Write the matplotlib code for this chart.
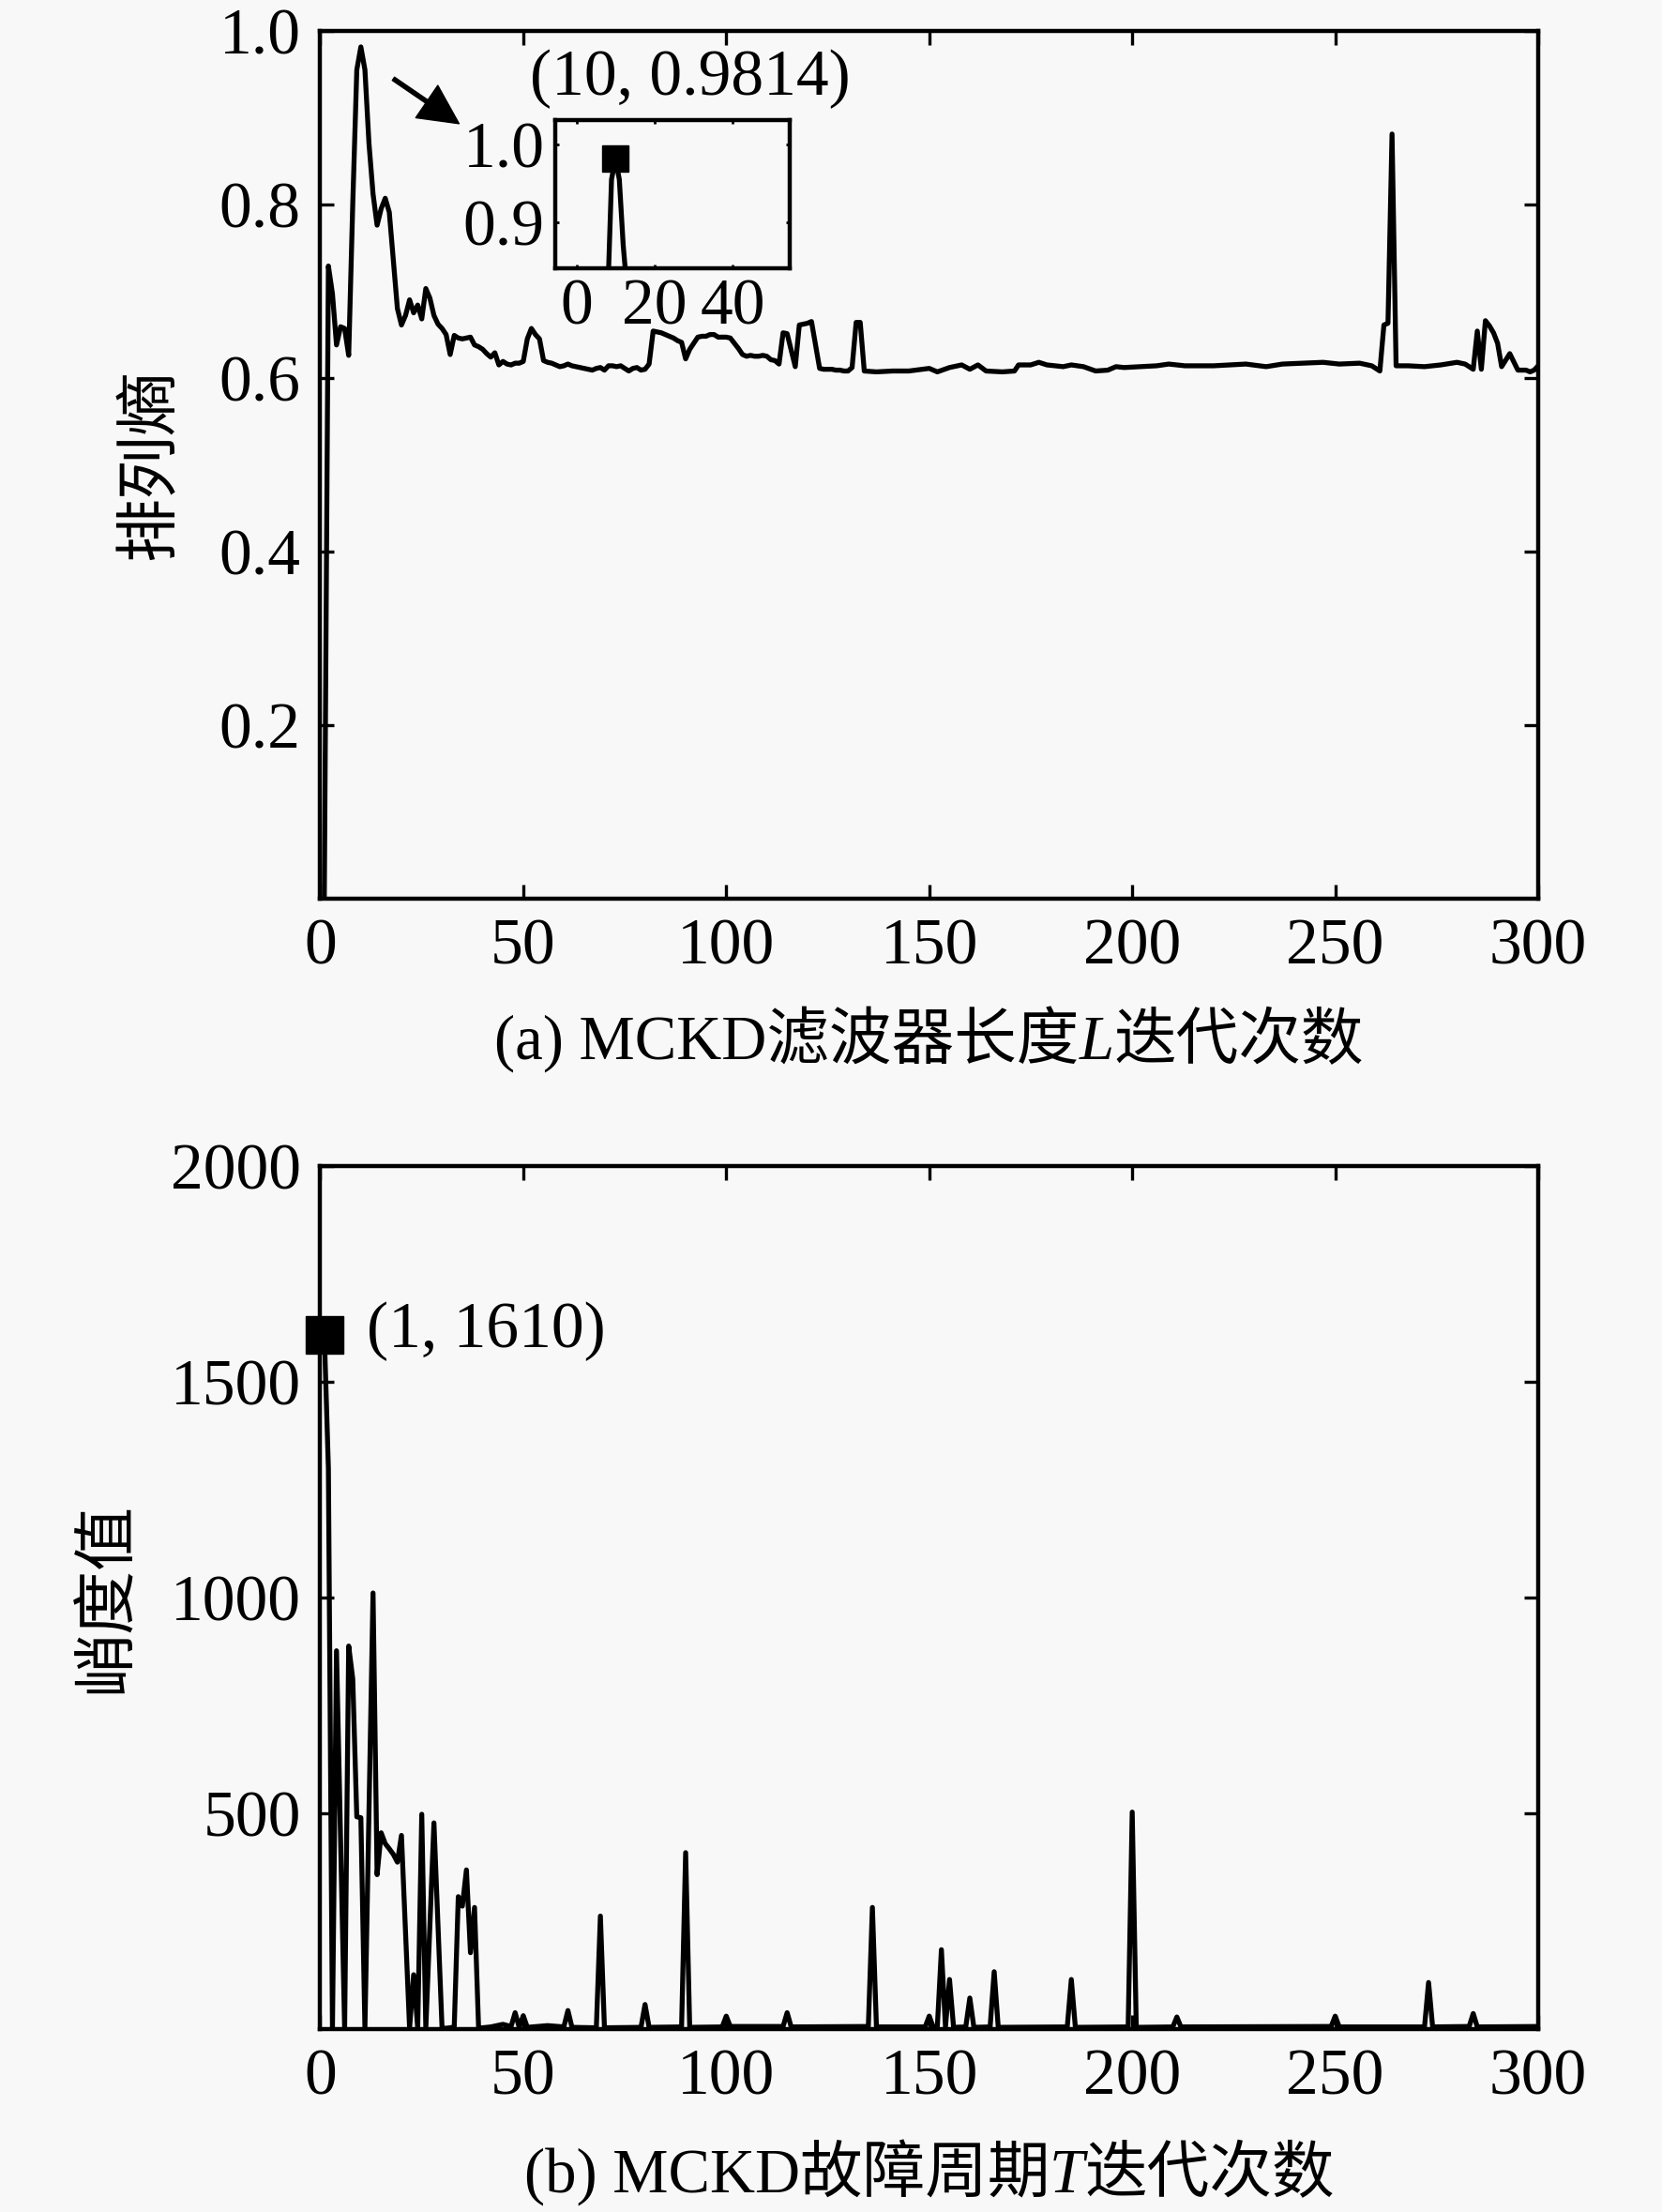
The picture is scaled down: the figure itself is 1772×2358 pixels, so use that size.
import matplotlib
matplotlib.use('Agg')
import matplotlib.pyplot as plt
from matplotlib.offsetbox import TextArea, HPacker, AnnotationBbox

plt.rcParams['font.family'] = ['Liberation Serif', 'Noto Sans CJK SC']

# (a) 排列熵 - MCKD滤波器长度L迭代
x_a = list(range(1, 135)) + [137, 141, 145, 150, 152, 155, 158, 160, 162, 164,
                             168, 171, 172, 175, 177, 179, 183, 185, 188, 191,
                             194, 196, 198, 202, 206, 209, 213, 220, 228, 233,
                             237, 242, 247, 251, 256, 259, 261, 262, 263, 264,
                             265, 268, 272, 276, 280, 282, 284, 285, 286, 287,
                             288, 289, 290, 291, 293, 295, 297, 298, 299, 300]
y_a = [0.003, 0.729, 0.697, 0.638, 0.659, 0.657, 0.626, 0.800, 0.955, 0.9814,
       0.955, 0.870, 0.812, 0.776, 0.795, 0.807, 0.791, 0.735, 0.680, 0.661,
       0.672, 0.690, 0.675, 0.684, 0.668, 0.703, 0.692, 0.672, 0.662, 0.657,
       0.650, 0.627, 0.649, 0.646, 0.645, 0.646, 0.647, 0.638, 0.636, 0.633,
       0.628, 0.624, 0.629, 0.615, 0.619, 0.616, 0.615, 0.617, 0.617, 0.619,
       0.645, 0.657, 0.650, 0.645, 0.620, 0.618, 0.617, 0.615, 0.613, 0.614,
       0.616, 0.614, 0.613, 0.612, 0.611, 0.610, 0.609, 0.611, 0.612, 0.609,
       0.614, 0.614, 0.613, 0.614, 0.611, 0.608, 0.611, 0.612, 0.609, 0.610,
       0.616, 0.654, 0.653, 0.652, 0.650, 0.648, 0.646, 0.643, 0.641, 0.622,
       0.633, 0.640, 0.647, 0.648, 0.648, 0.650, 0.650, 0.647, 0.647, 0.647,
       0.646, 0.640, 0.634, 0.627, 0.625, 0.626, 0.625, 0.625, 0.626, 0.625,
       0.621, 0.620, 0.616, 0.652, 0.651, 0.632, 0.613, 0.661, 0.662, 0.663,
       0.665, 0.638, 0.611, 0.610, 0.610, 0.610, 0.609, 0.609, 0.608, 0.608,
       0.612, 0.664, 0.664, 0.608,
       0.607, 0.608, 0.608, 0.611, 0.607, 0.612, 0.615, 0.610, 0.615, 0.608,
       0.607, 0.608, 0.615, 0.615, 0.618, 0.615, 0.613, 0.615, 0.613, 0.608,
       0.609, 0.613, 0.612, 0.613, 0.614, 0.616, 0.614, 0.614, 0.616, 0.613,
       0.616, 0.617, 0.618, 0.616, 0.617, 0.614, 0.608, 0.661, 0.663, 0.881,
       0.614, 0.614, 0.613, 0.615, 0.618, 0.616, 0.610, 0.654, 0.610, 0.666,
       0.660, 0.652, 0.640, 0.613, 0.628, 0.609, 0.609, 0.607, 0.609, 0.614]

# (b) 峭度值 - MCKD故障周期T迭代
x_b = list(range(1, 40)) + [42, 45, 47, 48, 49, 50, 51, 56, 60, 61,
                            62, 68, 69, 70, 79, 80, 81, 89, 90, 91,
                            99, 100, 101, 114, 115, 116, 135, 136, 137, 149,
                            150, 151, 152, 153, 154, 155, 156, 159, 160, 161,
                            165, 166, 167, 184, 185, 186, 199, 200, 201, 210,
                            211, 212, 249, 250, 251, 272, 273, 274, 283, 284,
                            285, 300]
y_b = [1610, 1300, 2, 877, 440, 2, 888, 812, 492, 490,
       2, 505, 1011, 358, 455, 430, 418, 405, 387, 449,
       225, 2, 126, 2, 498, 2, 240, 478, 240, 2,
       2, 3, 5, 307, 285, 369, 177, 282, 2,
       5, 11, 6, 38, 4, 31, 4, 8, 5, 43,
       4, 3, 262, 3, 4, 57, 4, 5, 409, 4,
       5, 30, 6, 6, 38, 5, 6, 282, 5, 5,
       30, 4, 6, 184, 5, 115, 4, 5, 72, 4,
       5, 133, 4, 5, 115, 4, 5, 503, 4, 5,
       28, 5, 6, 30, 5, 5, 108, 5, 6, 36,
       5, 6]

peak_a = (10, 0.9814)
peak_b = (1, 1610)

x_ticks = [0, 50, 100, 150, 200, 250, 300]
y_ticks_a = [0.2, 0.4, 0.6, 0.8, 1.0]
y_ticks_b = [500, 1000, 1500, 2000]

bg = '#f8f8f8'
fs = 50
fs_lab = 48
fam = ['Liberation Serif', 'Noto Sans CJK SC']
lw = 3.8

fig = plt.figure(figsize=(17.72, 23.58), dpi=100, facecolor=bg)
ax1 = fig.add_axes([0.1927, 0.5937, 0.7328, 0.3924], facecolor=bg)
ax2 = fig.add_axes([0.1927, 0.0827, 0.7328, 0.3900], facecolor=bg)


def style(ax):
    ax.tick_params(direction='in', top=True, right=True, length=11, width=2.4,
                   labelsize=fs, pad=15)
    for s in ax.spines.values():
        s.set_linewidth(3.2)


# panel a
ax1.plot(x_a, y_a, color='k', lw=lw)
ax1.set_xlim(0, 300)
ax1.set_ylim(0, 1)
ax1.set_xticks(x_ticks)
ax1.set_yticks(y_ticks_a, ['%.1f' % v for v in y_ticks_a])
style(ax1)
ax1.set_ylabel('排列熵', fontsize=fs_lab + 1)
ax1.yaxis.set_label_coords(-0.114, 0.5)

# inset
axin = fig.add_axes([0.3339, 0.8788, 0.1411, 0.0668], facecolor=bg)
axin.plot(x_a, y_a, color='k', lw=lw)
axin.plot(*peak_a, 's', color='k', ms=20)
axin.set_xlim(-5.5, 54.6)
axin.set_ylim(0.841, 1.031)
axin.set_xticks([0, 20, 40])
axin.set_yticks([0.9, 1.0], ['0.9', '1.0'])
axin.tick_params(direction='in', top=True, right=True, length=3, width=2,
                 labelsize=fs, pad=8)
for s in axin.spines.values():
    s.set_linewidth(3.2)

fig.text(0.415, 0.9644, '(10, 0.9814)', ha='center', va='center', fontsize=fs)
ax1.annotate('', xy=(0.2762, 0.9441), xytext=(0.2367, 0.9644),
             xycoords='figure fraction', textcoords='figure fraction',
             arrowprops=dict(facecolor='k', edgecolor='k', width=3,
                             headwidth=30, headlength=30, shrink=0))

# panel b
ax2.plot(x_b, y_b, color='k', lw=lw)
ax2.plot(*peak_b, 's', color='k', ms=29, clip_on=False)
ax2.text(11.4, 1617, '(1, 1610)', va='center', fontsize=fs)
ax2.set_xlim(0, 300)
ax2.set_ylim(0, 2000)
ax2.set_xticks(x_ticks)
ax2.set_yticks(y_ticks_b)
style(ax2)
ax2.set_ylabel('峭度值', fontsize=fs_lab + 1)
ax2.yaxis.set_label_coords(-0.150, 0.5)


def add_xlabel(y, parts):
    kids = [TextArea(t, textprops=dict(fontsize=fs_lab, fontstyle=st, family=fam))
            for t, st in parts]
    box = HPacker(children=kids, align='baseline', pad=0, sep=0)
    ab = AnnotationBbox(box, (0.559, y), xycoords='figure fraction',
                        frameon=False, box_alignment=(0.5, 0.5))
    fig.add_artist(ab)


add_xlabel(0.530, [('(a) MCKD滤波器长度', 'normal'), ('L', 'italic'), ('迭代次数', 'normal')])
add_xlabel(0.0178, [('(b) MCKD故障周期', 'normal'), ('T', 'italic'), ('迭代次数', 'normal')])

fig.savefig('out.png', dpi=100, facecolor=bg)
